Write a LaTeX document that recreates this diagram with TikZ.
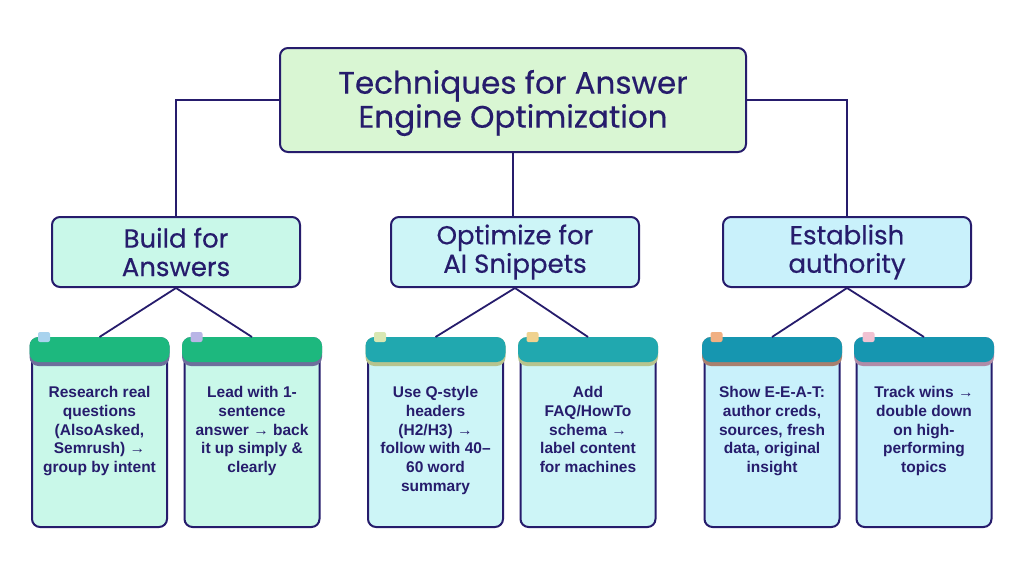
\documentclass[tikz,border=0pt]{standalone}
\usepackage{fontspec}
\newfontfamily\headfont[FakeBold=0.4]{Poppins}
\newfontfamily\leaffont{Liberation Sans}
\usetikzlibrary{calc}
\definecolor{navy}{HTML}{261C6C}
\definecolor{rootfill}{HTML}{D9F6D3}
\definecolor{mintfill}{HTML}{C9F8E9}
\definecolor{cyanfill}{HTML}{CDF5F7}
\definecolor{bluefill}{HTML}{C9F1FB}
\definecolor{hgreen}{HTML}{1DB87E}
\definecolor{hteal}{HTML}{21A8AF}
\definecolor{hblue}{HTML}{1696B0}
\definecolor{sgrey}{HTML}{6E6E9C}
\definecolor{skhaki}{HTML}{B7C48E}
\definecolor{sbrown}{HTML}{A8806E}
\definecolor{spink}{HTML}{B08CA8}
\definecolor{tabblue}{HTML}{A9D3EE}
\definecolor{tablav}{HTML}{B9B5E6}
\definecolor{tablime}{HTML}{D9E7B2}
\definecolor{tabyellow}{HTML}{F0D28F}
\definecolor{tabpeach}{HTML}{F1B082}
\definecolor{tabpink}{HTML}{F1C2D2}
\tikzset{
  rootbox/.style={draw=navy, line width=2pt, fill=rootfill, rounded corners=8pt,
    minimum width=466pt, minimum height=104pt},
  roottext/.style={font=\headfont\fontsize{31}{34}\selectfont, text=navy, align=center},
  catbox/.style={draw=navy, line width=2pt, rounded corners=8pt,
    minimum width=248pt, minimum height=70pt, font=\headfont\fontsize{26}{28.5}\selectfont,
    text=navy, align=center},
  cardbox/.style={draw=navy, line width=2pt, rounded corners=8pt,
    minimum width=135pt, minimum height=174pt},
  leaftext/.style={anchor=north, text=navy, align=center, inner sep=0pt,
    font=\leaffont\bfseries\fontsize{15.5}{18.8}\selectfont},
  conn/.style={draw=navy, line width=1.8pt},
}
\newcommand{\mycard}[7]{%
  % #1 name, #2 center x, #3 body fill, #4 header fill, #5 strip, #6 tab, #7 text
  \node[cardbox, fill=#3] (#1) at (#2,440) {};
  \fill[#5, rounded corners=9pt] ($(#1.north west)+(-1.5,-15)$) rectangle ($(#1.north east)+(1.5,14)$);
  \fill[#4, rounded corners=9pt] ($(#1.north west)+(-1.5,-15)$) rectangle ($(#1.north east)+(1.5,10)$);
  \fill[#6, rounded corners=2pt] ($(#1.north west)+(7,-20)$) rectangle ($(#1.north west)+(19,-10)$);
  \coordinate (#1top) at ($(#1.north)+(0,-15)$);
  \node[leaftext] (#1t) at ($(#1.north)+(0,34)$) {#7};
}
\begin{document}
\begin{tikzpicture}[x=1pt,y=-1pt]
\useasboundingbox[fill=white] (0,0) rectangle (1024,576);
\node[rootbox] (root) at (513,100) {};
\node[roottext] (roottxt) at (513,103) {Techniques for Answer\\Engine Optimization};
\node[catbox, fill=mintfill] (b1) at (176,252) {Build for\\Answers};
\node[catbox, fill=cyanfill] (b2) at (515,252) {Optimize for\\AI Snippets};
\node[catbox, fill=bluefill] (b3) at (847,252) {Establish\\authority};
\draw[conn] (root.west) -| (b1.north);
\draw[conn] (root.east) -| (b3.north);
\draw[conn] (root.south) -- (root.south |- b2.north);
\mycard{c1}{99.5}{mintfill}{hgreen}{sgrey}{tabblue}{Research real\\questions\\(AlsoAsked,\\Semrush) →\\group by intent}
\mycard{c2}{252}{mintfill}{hgreen}{sgrey}{tablav}{Lead with 1-\\sentence\\answer → back\\it up simply \&\\clearly}
\mycard{c3}{435.5}{cyanfill}{hteal}{skhaki}{tablime}{Use Q-style\\headers\\(H2/H3) →\\follow with 40–\\60 word\\summary}
\mycard{c4}{588}{cyanfill}{hteal}{skhaki}{tabyellow}{Add\\FAQ/HowTo\\schema →\\label content\\for machines}
\mycard{c5}{772}{bluefill}{hblue}{sbrown}{tabpeach}{Show E-E-A-T:\\author creds,\\sources, fresh\\data, original\\insight}
\mycard{c6}{924}{bluefill}{hblue}{spink}{tabpink}{Track wins →\\double down\\on high-\\performing\\topics}
\draw[conn] (b1.south) -- (c1top);
\draw[conn] (b1.south) -- (c2top);
\draw[conn] (b2.south) -- (c3top);
\draw[conn] (b2.south) -- (c4top);
\draw[conn] (b3.south) -- (c5top);
\draw[conn] (b3.south) -- (c6top);
\end{tikzpicture}
\end{document}
